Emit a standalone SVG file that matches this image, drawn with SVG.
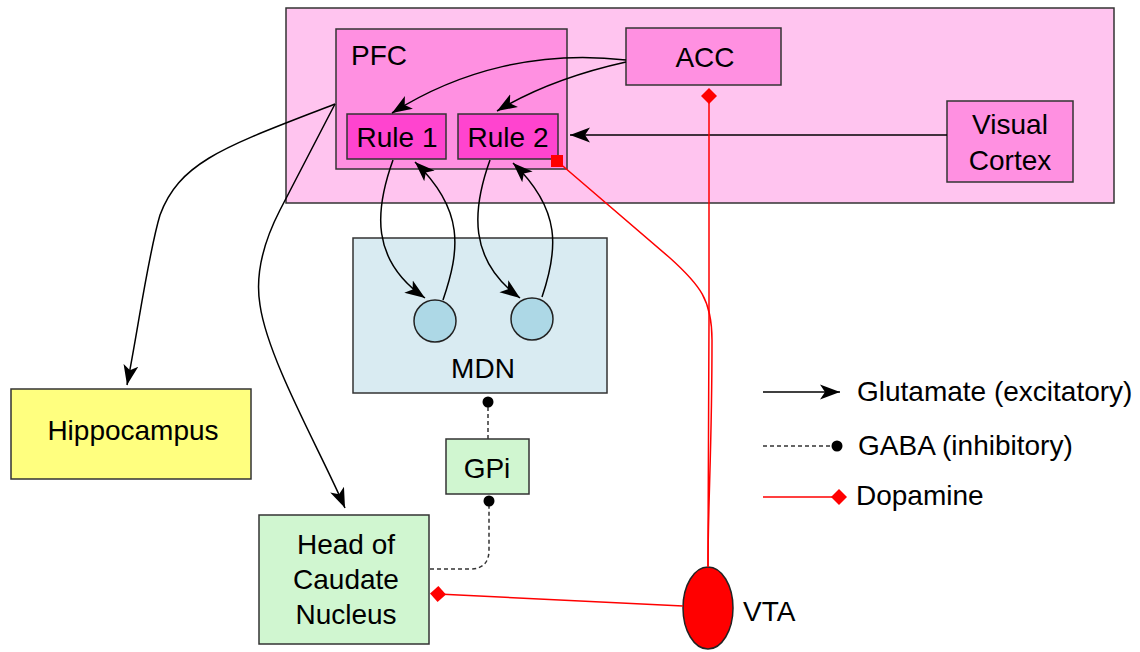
<svg xmlns="http://www.w3.org/2000/svg" width="1140" height="652" viewBox="0 0 1140 652">
<style>
.box{stroke:#333;stroke-width:1.5}
.t{font-family:"Liberation Sans",Arial,sans-serif;font-size:28px;fill:#000}
.c{text-anchor:middle}
.glu{fill:none;stroke:#000;stroke-width:1.5}
.gaba{fill:none;stroke:#333;stroke-width:1.5;stroke-dasharray:4,3}
.da{fill:none;stroke:#f00;stroke-width:1.5}
</style>
<defs>
<marker id="arr" markerUnits="userSpaceOnUse" markerWidth="22" markerHeight="18" viewBox="0 0 22 18" refX="20" refY="9" orient="auto">
<path d="M0,1.5 L20,9 L0,16.5 L5,9 Z" fill="#000"/>
</marker>
<marker id="dot" markerUnits="userSpaceOnUse" markerWidth="12" markerHeight="12" viewBox="0 0 12 12" refX="6" refY="6" orient="auto">
<circle cx="6" cy="6" r="5.5" fill="#000"/>
</marker>
<marker id="dia" markerUnits="userSpaceOnUse" markerWidth="18" markerHeight="18" viewBox="0 0 18 18" refX="9" refY="9" orient="auto">
<path d="M1,9 L9,1 L17,9 L9,17 Z" fill="#f00"/>
</marker>
</defs>

<g id="cortex"><rect class="box" x="286" y="8" width="828" height="195" fill="#FFC4EF"/></g>
<g id="pfc"><rect class="box" x="336" y="29" width="231" height="140" fill="#FF90E1"/><text class="t" x="351" y="65">PFC</text></g>
<g id="acc"><rect class="box" x="626" y="28" width="155" height="57" fill="#FF90E1"/><text class="t c" x="705" y="67">ACC</text></g>
<g id="rule1"><rect class="box" x="347" y="114" width="99" height="45" fill="#FF44CF"/><text class="t c" x="397" y="147">Rule 1</text></g>
<g id="rule2"><rect class="box" x="458" y="114" width="100" height="45" fill="#FF44CF"/><text class="t c" x="508" y="147">Rule 2</text></g>
<g id="visual"><rect class="box" x="947" y="101" width="126" height="81" fill="#FF90E1"/><text class="t c" x="1010" y="134">Visual</text><text class="t c" x="1010" y="170">Cortex</text></g>
<g id="mdn"><rect class="box" x="353" y="238" width="254" height="155" fill="#D9EBF2"/><circle cx="435" cy="321" r="21" fill="#ADD8E6" stroke="#222" stroke-width="1.5"/><circle cx="532" cy="319" r="21" fill="#ADD8E6" stroke="#222" stroke-width="1.5"/><text class="t c" x="483" y="378">MDN</text></g>
<g id="hippocampus"><rect class="box" x="11" y="389" width="240" height="90" fill="#FFFF7F"/><text class="t c" x="133" y="440">Hippocampus</text></g>
<g id="gpi"><rect class="box" x="446" y="439" width="83" height="55" fill="#D0F6D0"/><text class="t c" x="487" y="478">GPi</text></g>
<g id="caudate"><rect class="box" x="259" y="515" width="170" height="129" fill="#D0F6D0"/><text class="t c" x="346" y="554">Head of</text><text class="t c" x="346" y="589">Caudate</text><text class="t c" x="346" y="624">Nucleus</text></g>
<g id="vta"><ellipse cx="708" cy="608" rx="25" ry="41" fill="#f00" stroke="#222" stroke-width="1.5"/><text class="t" x="743" y="621">VTA</text></g>

<g id="connectors">
<path class="glu" d="M626,60 C540,50 460,70 392,113" marker-end="url(#arr)"/>
<path class="glu" d="M626,62 C590,70 540,85 497,111" marker-end="url(#arr)"/>
<path class="glu" d="M947,135 L570,135" marker-end="url(#arr)"/>
<path class="glu" d="M393,160 C375,210 370,260 425,298" marker-end="url(#arr)"/>
<path class="glu" d="M443,300 C460,250 465,210 415,162" marker-end="url(#arr)"/>
<path class="glu" d="M490,160 C472,210 468,260 520,298" marker-end="url(#arr)"/>
<path class="glu" d="M542,297 C558,250 562,210 513,163" marker-end="url(#arr)"/>
<path class="glu" d="M335,104 C230,145 180,160 160,215 C148,255 138,330 127,385" marker-end="url(#arr)"/>
<path class="glu" d="M335,104 L280,210 C262,245 255,275 260,305 C268,360 320,450 345,508" marker-end="url(#arr)"/>
<path class="gaba" d="M488,439 L488,402" marker-end="url(#dot)"/>
<path class="gaba" d="M430,569 L470,569 Q489,569 489,550 L489,501" marker-end="url(#dot)"/>
<path class="da" d="M708,567 C708,500 709,450 709,320 L709,96" marker-end="url(#dia)"/>
<path class="da" d="M708,567 C708,500 712,450 712,340 C712,300 700,285 670,258 L557,161"/>
<rect x="551" y="155" width="12" height="12" fill="#f00"/>
<path class="da" d="M683,606 L438,594" marker-end="url(#dia)"/>
</g>

<g id="legend">
<path class="glu" d="M763,392 L840,392" marker-end="url(#arr)"/>
<text class="t" x="857" y="401">Glutamate (excitatory)</text>
<path class="gaba" d="M763,446 L837,446" marker-end="url(#dot)"/>
<text class="t" x="858" y="455">GABA (inhibitory)</text>
<path class="da" d="M763,497 L839,497" marker-end="url(#dia)"/>
<text class="t" x="856" y="505">Dopamine</text>
</g>
</svg>
